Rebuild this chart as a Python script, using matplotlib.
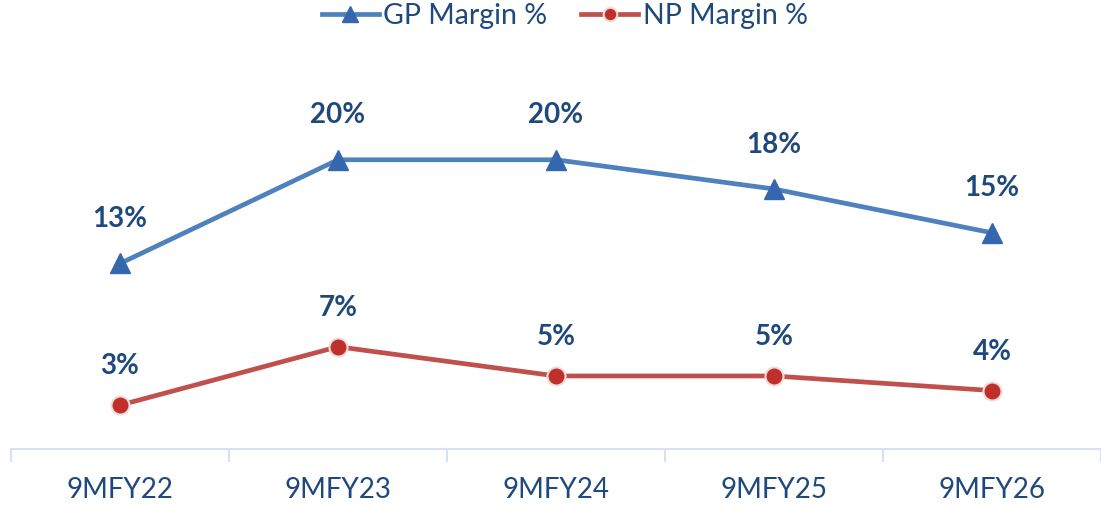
import matplotlib.pyplot as plt

# data
periods = ['9MFY22', '9MFY23', '9MFY24', '9MFY25', '9MFY26']
gp_margin = [12.7, 19.8, 19.8, 17.8, 14.8]
np_margin = [3.0, 7.0, 5.0, 5.0, 4.0]
gp_labels = ['13%', '20%', '20%', '18%', '15%']
np_labels = ['3%', '7%', '5%', '5%', '4%']

blue = '#4F81BD'
red = '#C0504D'
text_col = '#1F497D'

plt.rcParams['font.family'] = ['Lato', 'DejaVu Sans']

fig = plt.figure(figsize=(11.01, 5.05), dpi=100)
ax = fig.add_axes([11 / 1101, 56 / 505, 1090 / 1101, 409 / 505])

x = list(range(len(periods)))
ax.plot(x, gp_margin, color=blue, linewidth=3.4, marker='^', markersize=15,
        markerfacecolor='#3567AE', markeredgecolor='#3567AE', label='GP Margin %', zorder=3)
ax.plot(x, np_margin, color=red, linewidth=3.4, marker='o', markersize=13,
        markerfacecolor='#C0302B', markeredgecolor='#F2DCDB', markeredgewidth=1.5,
        label='NP Margin %', zorder=3)

for xi, v, lab in zip(x, gp_margin, gp_labels):
    ax.annotate(lab, (xi, v), xytext=(0, 32), textcoords='offset points',
                ha='center', va='center', fontsize=20, fontweight='bold', color=text_col)
for xi, v, lab in zip(x, np_margin, np_labels):
    ax.annotate(lab, (xi, v), xytext=(0, 28), textcoords='offset points',
                ha='center', va='center', fontsize=20, fontweight='bold', color=text_col)

ax.set_xlim(-0.5, len(periods) - 0.5)
ax.set_ylim(0, 28)
ax.set_yticks([])
for side in ['top', 'right', 'left']:
    ax.spines[side].set_visible(False)
ax.spines['bottom'].set_color('#D6E2F2')
ax.spines['bottom'].set_linewidth(1.5)

# category labels centred, boundary ticks between them
ax.set_xticks(x)
ax.set_xticklabels(periods, fontsize=20, color=text_col)
ax.tick_params(axis='x', which='major', length=0, pad=20)
ax.set_xticks([i - 0.5 for i in range(len(periods) + 1)], minor=True)
ax.tick_params(axis='x', which='minor', length=9, width=1.5, color='#D6E2F2')

leg = fig.legend(loc='upper center', bbox_to_anchor=(0.513, 1.045), ncol=2, frameon=False,
                 fontsize=20.5, handlelength=2.0, columnspacing=1.2, handletextpad=0.15,
                 markerscale=0.75)
for t in leg.get_texts():
    t.set_color(text_col)

fig.savefig('out.png', dpi=100)
